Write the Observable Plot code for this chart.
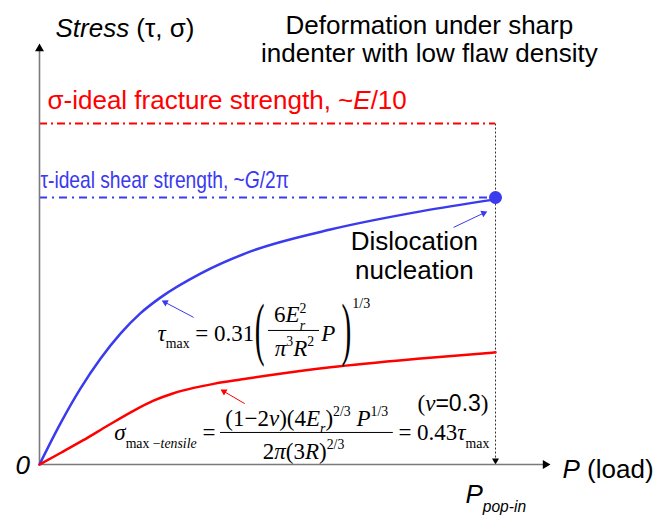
<!DOCTYPE html>
<html>
<head>
<meta charset="utf-8">
<script src="https://cdn.jsdelivr.net/npm/d3@7"></script>
<script src="https://cdn.jsdelivr.net/npm/@observablehq/plot@0.6"></script>
<style>
  html, body { margin: 0; padding: 0; background: #fff; }
  #chart svg { display: block; }
</style>
</head>
<body>
<div id="chart"></div>
<script>
// ---------------- data (P in units of P_pop-in, stress in units of ideal shear strength) -------------
const shearLoad     = [0, 0.046, 0.090, 0.134, 0.178, 0.221, 0.265, 0.353, 0.463, 0.638, 0.836, 1.0];
const shearStress   = [0, 0.154, 0.285, 0.397, 0.491, 0.566, 0.625, 0.715, 0.798, 0.880, 0.948, 0.993];
const tensileLoad   = [0, 0.048, 0.096, 0.151, 0.206, 0.250, 0.294, 0.338, 0.382, 0.441, 0.500, 0.638, 0.836, 1.0];
const tensileStress = [0, 0.045, 0.091, 0.147, 0.201, 0.239, 0.267, 0.287, 0.302, 0.318, 0.333, 0.364, 0.397, 0.420];
const idealFracture = 1.277;   // σ ideal ~E/10
const idealShear    = 1.0;     // τ ideal ~G/2π
const popIn         = 1.0;     // P pop-in
const xMax = 1.1206, yMax = 1.5768;

// text labels (markup: *italic*, _{sub}, ^{sup}, [sans])
const titleLines  = ["Deformation under sharp", "indenter with low flaw density"];
const yAxisLabel  = "*Stress* (τ, σ)";
const xAxisLabel  = "*P* (load)";
const originLabel = "*0*";
const popInLabel  = "*P*_{*pop-in*}";
const fractureLabel = "σ-ideal fracture strength, ~*E*/10";
const shearLabel    = "τ-ideal shear strength, ~*G*/2π";
const nucleationLines = ["Dislocation", "nucleation"];

// ---------------- layout ----------------
const W = 654, H = 515;
const M = {left: 39, right: 104, top: 43, bottom: 51};
const kx = (W - M.left - M.right) / xMax;
const ky = (H - M.top - M.bottom) / yMax;
const RED = "#ff0000", BLUE = "#3a3aef", AXIS = "#7a7a7a";
const SANS = "Liberation Sans, Arial, sans-serif";
const SERIF = "Liberation Serif, Times New Roman, serif";

const shear = shearLoad.map((x, i) => ({x, y: shearStress[i]}));
const tensile = tensileLoad.map((x, i) => ({x, y: tensileStress[i]}));

// arrows: shaft + filled triangular head
const axisArrows = [
  {x1: 0, y1: 0, x2: 0, y2: yMax},
  {x1: 0, y1: 0, x2: xMax, y2: 0}
];
const dropArrow = [{x1: popIn, y1: idealFracture, x2: popIn, y2: 0}];
const bluePointers = [
  {x1: 0.338, y1: 0.551, x2: 0.268, y2: 0.614},
  {x1: 0.908, y1: 0.888, x2: 0.982, y2: 0.948}
];
const redPointers = [{x1: 0.450, y1: 0.228, x2: 0.397, y2: 0.281}];

function heads(arrows, r) {
  const k = 1.555 * r;
  return arrows.map(a => {
    let ux = (a.x2 - a.x1) * kx, uy = -(a.y2 - a.y1) * ky;
    const n = Math.hypot(ux, uy); ux /= n; uy /= n;
    return {
      x: a.x2 - ux * k / kx, y: a.y2 + uy * k / ky,
      rot: Math.atan2(uy, ux) * 180 / Math.PI + 90,
      x1: a.x1, y1: a.y1
    };
  });
}
function arrowMarks(arrows, r, style) {
  const hs = heads(arrows, r);
  return [
    Plot.link(hs, {x1: "x1", y1: "y1", x2: "x", y2: "y", stroke: style.stroke, strokeWidth: style.width, strokeDasharray: style.dash}),
    Plot.dot(hs, {x: "x", y: "y", symbol: "triangle", r, fill: style.head, stroke: "none", rotate: "rot"})
  ];
}

function label(data, opts) {
  return Plot.text(data, {x: "x", y: "y", text: "text", lineAnchor: "bottom", fill: "black", ...opts});
}

// annotation positions (data units)
const titleText = titleLines.map((text, i) => ({text, x: 0.855, y: [1.614, 1.506][i]}));
const nucleationText = nucleationLines.map((text, i) => ({text, x: 0.822, y: [0.805, 0.693][i]}));

// equation 1: τmax
const eq1Left  = [{text: "*τ*_{max} = 0.31", x: 0.259, y: 0.464}];
const eq1Num   = [{text: "6*E*_{*r*}^{2}", x: 0.550, y: 0.532}];
const eq1Den   = [{text: "*π*^{3}*R*^{2}", x: 0.559, y: 0.408}];
const eq1P     = [{text: "*P*", x: 0.618, y: 0.464}];
const eq1Exp   = [{text: "1/3", x: 0.686, y: 0.588}];
const eq1Paren = [{text: "(", x: 0.483, y: 0.423}, {text: ")", x: 0.673, y: 0.423}];
const eq1Bar   = [{y: 0.502, x1: 0.502, x2: 0.614}];
// equation 2: σmax-tensile
const eq2Left  = [{text: "*σ*_{max −*tensile*} =", x: 0.164, y: 0.090}];
const eq2Num   = [{text: "(1−2*ν*)(4*E*_{*r*})^{2/3} *P*^{1/3}", x: 0.586, y: 0.146}];
const eq2Den   = [{text: "2*π*(3*R*)^{2/3}", x: 0.579, y: 0.022}];
const eq2Right = [{text: "= 0.43*τ*_{max}", x: 0.787, y: 0.090}];
const eq2Nu    = [{text: "(*ν*[=0.3])", x: 0.829, y: 0.202}];
const eq2Bar   = [{y: 0.120, x1: 0.397, x2: 0.776}];

const plot = Plot.plot({
  width: W, height: H,
  marginLeft: M.left, marginRight: M.right, marginTop: M.top, marginBottom: M.bottom,
  x: {domain: [0, xMax], axis: null},
  y: {domain: [0, yMax], axis: null},
  style: {background: "white", overflow: "visible"},
  marks: [
    // ideal strength levels
    Plot.ruleY([idealFracture], {x1: 0, x2: popIn, stroke: RED, strokeWidth: 2, strokeDasharray: "8,4,2,4"}),
    Plot.ruleY([idealShear], {x1: 0, x2: popIn, stroke: BLUE, strokeWidth: 2, strokeDasharray: "8,5,2,5"}),
    // pop-in drop line
    ...arrowMarks(dropArrow, 2.6, {stroke: "#333", width: 1, dash: "2,2", head: "black"}),
    // axes
    ...arrowMarks(axisArrows, 3.3, {stroke: AXIS, width: 1.6, head: "black"}),
    // curves
    Plot.line(shear, {x: "x", y: "y", stroke: BLUE, strokeWidth: 2.5, curve: "monotone-x"}),
    Plot.line(tensile, {x: "x", y: "y", stroke: RED, strokeWidth: 2.5, curve: "monotone-x"}),
    Plot.dot([{x: popIn, y: idealShear}], {x: "x", y: "y", r: 6.5, fill: BLUE, stroke: "none"}),
    // pointers
    ...arrowMarks(bluePointers, 2.6, {stroke: BLUE, width: 1, head: BLUE}),
    ...arrowMarks(redPointers, 2.6, {stroke: RED, width: 1, head: RED}),
    // texts
    label(titleText, {textAnchor: "middle", fontSize: 26, fontFamily: SANS}),
    label([{text: yAxisLabel, x: 0.035, y: 1.603}], {textAnchor: "start", fontSize: 26, fontFamily: SANS}),
    label([{text: fractureLabel, x: 0.0175, y: 1.330}], {textAnchor: "start", fontSize: 26, fontFamily: SANS, fill: RED}),
    label([{text: shearLabel, x: 0.002, y: 1.037}], {textAnchor: "start", fontSize: 24, fontFamily: SANS, fill: BLUE}),
    label(nucleationText, {textAnchor: "middle", fontSize: 26, fontFamily: SANS}),
    label([{text: originLabel, x: -0.037, y: -0.034}], {textAnchor: "middle", fontSize: 26, fontFamily: SANS}),
    label([{text: xAxisLabel, x: 1.147, y: -0.052}], {textAnchor: "start", fontSize: 26, fontFamily: SANS}),
    label([{text: popInLabel, x: 0.934, y: -0.146}], {textAnchor: "start", fontSize: 26, fontFamily: SANS}),
    // equation 1
    label(eq1Left, {textAnchor: "start", fontSize: 23, fontFamily: SERIF}),
    label(eq1Num, {textAnchor: "middle", fontSize: 23, fontFamily: SERIF}),
    label(eq1Den, {textAnchor: "middle", fontSize: 23, fontFamily: SERIF}),
    label(eq1P, {textAnchor: "start", fontSize: 23, fontFamily: SERIF}),
    label(eq1Exp, {textAnchor: "start", fontSize: 14, fontFamily: SERIF}),
    label(eq1Paren, {textAnchor: "middle", fontSize: 70, fontFamily: SERIF}),
    Plot.ruleY(eq1Bar, {y: "y", x1: "x1", x2: "x2", stroke: "black", strokeWidth: 1}),
    // equation 2
    label(eq2Left, {textAnchor: "start", fontSize: 23, fontFamily: SERIF}),
    label(eq2Num, {textAnchor: "middle", fontSize: 23, fontFamily: SERIF}),
    label(eq2Den, {textAnchor: "middle", fontSize: 23, fontFamily: SERIF}),
    label(eq2Right, {textAnchor: "start", fontSize: 23, fontFamily: SERIF}),
    label(eq2Nu, {textAnchor: "start", fontSize: 23, fontFamily: SERIF}),
    Plot.ruleY(eq2Bar, {y: "y", x1: "x1", x2: "x2", stroke: "black", strokeWidth: 1})
  ]
});
document.getElementById("chart").append(plot);

// ---------- rich text: italic, sub/superscripts, font switch ----------
const NS = "http://www.w3.org/2000/svg";
const SCRIPT = 0.6, SUB = 0.32, SUP = 0.42;
// horizontal squeeze of a text element about its anchor
function squeeze(t, sx) {
  const x = parseFloat(t.getAttribute("x")) || 0;
  const y = parseFloat(t.getAttribute("y")) || 0;
  const tr = t.getAttribute("transform") || "";
  t.removeAttribute("x"); t.removeAttribute("y");
  t.setAttribute("transform", `${tr} translate(${x},${y}) scale(${sx},1)`);
}
function richify(root) {
  const texts = Array.from(root.querySelectorAll("text"));
  // thin tall parentheses, condensed blue label (selected by content)
  texts.forEach((t) => {
    const s = t.textContent;
    if (s === "(" || s === ")") squeeze(t, 0.42);
    else if (s === shearLabel) squeeze(t, 0.8);
  });
  texts.forEach((t) => {
    const s = t.textContent;
    if (!/[*_^\[\]]/.test(s)) return;
    const g = t.closest("[font-size]");
    const base = g ? parseFloat(g.getAttribute("font-size")) : 10;
    while (t.firstChild) t.removeChild(t.firstChild);
    let italic = false, sansOn = false, level = 0, cur = 0, buf = "", lastSub = null;
    const flush = () => {
      if (!buf) return;
      const ts = document.createElementNS(NS, "tspan");
      ts.textContent = buf;
      if (italic) ts.setAttribute("font-style", "italic");
      if (sansOn) ts.setAttribute("font-family", SANS);
      ts.setAttribute("font-size", level ? base * SCRIPT : base);
      const target = level < 0 ? base * SUB : level > 0 ? -base * SUP : 0;
      if (Math.abs(target - cur) > 1e-6) ts.setAttribute("dy", (target - cur).toFixed(2));
      cur = target;
      t.appendChild(ts);
      if (level > 0 && lastSub) ts.setAttribute("dx", (-lastSub.getComputedTextLength()).toFixed(2));
      lastSub = level < 0 ? ts : null;
      buf = "";
    };
    for (let i = 0; i < s.length; i++) {
      const c = s[i];
      if (c === "*") { flush(); italic = !italic; }
      else if (c === "[") { flush(); sansOn = true; }
      else if (c === "]") { flush(); sansOn = false; }
      else if ((c === "_" || c === "^") && s[i + 1] === "{") { flush(); level = c === "_" ? -1 : 1; i++; }
      else if (c === "}") { flush(); level = 0; }
      else buf += c;
    }
    flush();
  });
}
richify(plot);
</script>
</body>
</html>
